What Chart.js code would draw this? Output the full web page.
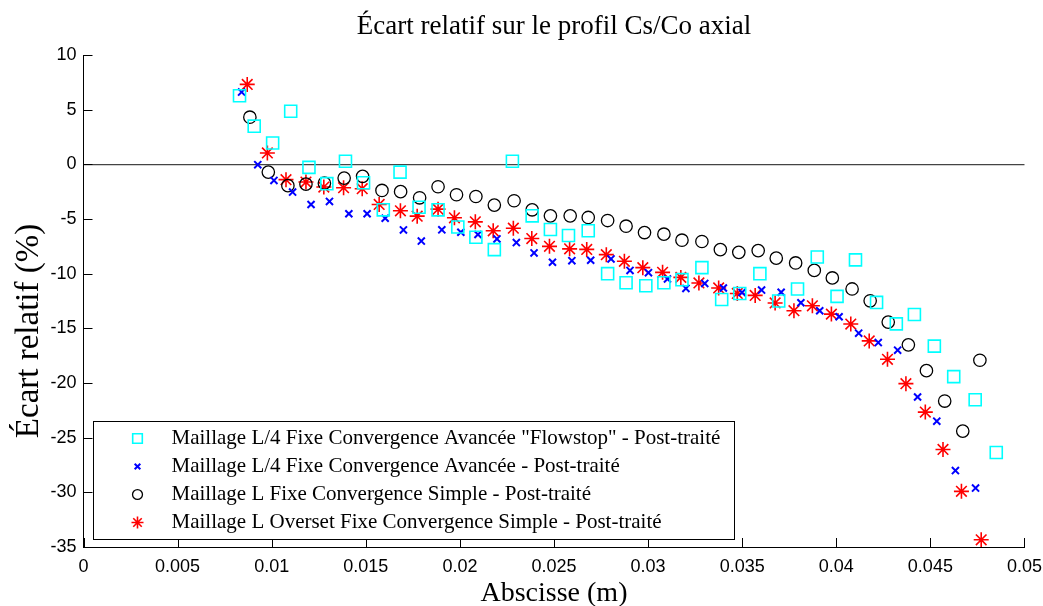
<!DOCTYPE html>
<html>
<head>
<meta charset="utf-8">
<title>Écart relatif sur le profil Cs/Co axial</title>
<script src="https://cdn.jsdelivr.net/npm/chart.js@4.4.1/dist/chart.umd.min.js"></script>
<style>
  html, body { margin: 0; padding: 0; background: #fff; }
</style>
</head>
<body>
<canvas id="chart" width="1043" height="606"></canvas>
<script>
// valeurs : abscisse en m, écart relatif en %
const xFlowstop = [0.00829, 0.00907, 0.01005, 0.01101, 0.01198, 0.01293, 0.01392, 0.01488, 0.01593, 0.01682,
  0.01783, 0.01884, 0.01989, 0.02085, 0.02183, 0.02279, 0.02384, 0.02481, 0.02577, 0.02682,
  0.02785, 0.02883, 0.02988, 0.03084, 0.0318, 0.03286, 0.03391, 0.03487, 0.03594, 0.03694,
  0.03794, 0.03899, 0.04004, 0.04102, 0.04214, 0.04319, 0.04415, 0.04521, 0.04624, 0.04738, 0.0485];
const yFlowstop = [6.27, 3.49, 1.95, 4.86, -0.28, -1.77, 0.28, -1.68, -4.16, -0.71,
  -3.92, -4.16, -5.73, -6.67, -7.8, 0.28, -4.71, -5.96, -6.51, -6.08,
  -10.0, -10.83, -11.1, -10.83, -10.55, -9.45, -12.36, -11.81, -10.0, -12.5,
  -11.4, -8.47, -12.08, -8.74, -12.63, -14.59, -13.73, -16.63, -19.42, -21.53, -26.36];

const xAvancee = [0.0084, 0.00926, 0.01012, 0.01111, 0.01209, 0.01307, 0.0141, 0.01507, 0.01603, 0.017,
  0.01795, 0.01904, 0.02005, 0.02096, 0.02197, 0.023, 0.02394, 0.02492, 0.02595, 0.02695,
  0.02803, 0.02904, 0.03002, 0.03103, 0.03201, 0.03301, 0.034, 0.03499, 0.03603, 0.03707,
  0.03812, 0.03912, 0.04015, 0.04119, 0.04223, 0.04326, 0.04432, 0.04534, 0.04633, 0.0474];
const yAvancee = [6.61, -0.03, -1.47, -2.54, -3.67, -3.39, -4.52, -4.52, -4.93, -6.0,
  -7.02, -5.99, -6.21, -6.42, -6.82, -7.16, -8.1, -8.96, -8.81, -8.77,
  -8.65, -9.7, -9.91, -10.49, -11.35, -10.89, -11.31, -11.72, -11.5, -11.7,
  -12.66, -13.39, -13.94, -15.44, -16.3, -17.0, -21.28, -23.49, -28.01, -29.61];

const xSimple = [0.00884, 0.00982, 0.01086, 0.01182, 0.0128, 0.01385, 0.01483, 0.01586, 0.01685, 0.01786,
  0.01884, 0.01982, 0.02085, 0.02183, 0.02288, 0.02384, 0.02481, 0.02586, 0.02682, 0.02785,
  0.02883, 0.02981, 0.03084, 0.0318, 0.03286, 0.03384, 0.03482, 0.03585, 0.03681, 0.03784,
  0.03883, 0.03979, 0.04084, 0.0418, 0.04276, 0.04383, 0.04479, 0.04576, 0.04672, 0.04763];
const ySimple = [4.31, -0.71, -1.95, -1.81, -1.72, -1.26, -1.1, -2.39, -2.5, -3.06,
  -2.05, -2.78, -2.94, -3.73, -3.33, -4.16, -4.71, -4.71, -4.86, -5.14,
  -5.66, -6.24, -6.39, -6.94, -7.06, -7.8, -8.05, -7.89, -8.58, -9.02,
  -9.7, -10.39, -11.4, -12.48, -14.43, -16.51, -18.87, -21.65, -24.4, -17.92];

const xOverset = [0.0087, 0.00977, 0.01076, 0.01182, 0.01277, 0.01382, 0.01481, 0.01571, 0.01684, 0.01773,
  0.01884, 0.01971, 0.02082, 0.02177, 0.02284, 0.02382, 0.02476, 0.02583, 0.02674, 0.02778,
  0.02874, 0.02972, 0.03077, 0.03174, 0.0327, 0.03375, 0.03474, 0.03569, 0.03675, 0.03775,
  0.03873, 0.03974, 0.04077, 0.04175, 0.04272, 0.0437, 0.04473, 0.04567, 0.04665, 0.0477];
const yOverset = [7.31, 1.04, -1.4, -1.62, -2.08, -2.14, -2.23, -3.67, -4.25, -4.74,
  -4.1, -4.89, -5.26, -6.08, -5.84, -6.79, -7.5, -7.73, -7.78, -8.26,
  -8.87, -9.45, -9.88, -10.34, -10.85, -11.31, -11.81, -11.99, -12.68, -13.39,
  -12.94, -13.7, -14.61, -16.15, -17.83, -20.06, -22.66, -26.08, -29.91, -34.34];

const seriesLabels = [
  'Maillage L/4 Fixe Convergence Avancée "Flowstop" - Post-traité',
  'Maillage L/4 Fixe Convergence Avancée - Post-traité',
  'Maillage L Fixe Convergence Simple - Post-traité',
  'Maillage L Overset Fixe Convergence Simple - Post-traité'
];

const xTicks = [0, 0.005, 0.01, 0.015, 0.02, 0.025, 0.03, 0.035, 0.04, 0.045, 0.05];
const yTicks = [10, 5, 0, -5, -10, -15, -20, -25, -30, -35];

const serif = "'Liberation Serif', 'Times New Roman', serif";
const sans = "'Liberation Sans', Arial, sans-serif";

const toPoints = (xs, ys) => xs.map((x, i) => ({ x: x, y: ys[i] }));

// ticks vers l'intérieur, libellé Y et légende encadrée (style MATLAB)
const matlabAxes = {
  id: 'matlabAxes',
  afterDraw(chart) {
    const { ctx, chartArea: a, scales: { x, y } } = chart;
    ctx.save();
    ctx.strokeStyle = '#000';
    ctx.lineWidth = 1;
    ctx.beginPath();
    xTicks.forEach(v => {
      const px = Math.round(x.getPixelForValue(v)) + 0.5;
      ctx.moveTo(px, a.bottom);
      ctx.lineTo(px, a.bottom - 9);
    });
    yTicks.forEach(v => {
      const py = Math.round(y.getPixelForValue(v)) + 0.5;
      ctx.moveTo(a.left, py);
      ctx.lineTo(a.left + 9, py);
    });
    ctx.stroke();

    ctx.save();
    ctx.translate(29, 331);
    ctx.rotate(-Math.PI / 2);
    ctx.fillStyle = '#000';
    ctx.font = '33px ' + serif;
    ctx.textAlign = 'center';
    ctx.textBaseline = 'middle';
    ctx.fillText('Écart relatif (%)', 0, 0);
    ctx.restore();

    // légende
    const lx = Math.round(a.left + 9.5) + 0.5, ly = 421.5;
    const lw = 641, lh = 118;
    ctx.fillStyle = '#fff';
    ctx.fillRect(lx, ly, lw, lh);
    ctx.strokeRect(lx, ly, lw, lh);
    ctx.font = '21px ' + serif;
    ctx.textAlign = 'left';
    ctx.textBaseline = 'middle';
    chart.data.datasets.forEach((ds, i) => {
      const cy = ly + 17 + i * 28;
      ctx.strokeStyle = ds.borderColor;
      ctx.fillStyle = 'transparent';
      ctx.lineWidth = ds.borderWidth;
      Chart.helpers.drawPoint(ctx, {
        pointStyle: ds.pointStyle, radius: ds.pointRadius * 0.8, borderWidth: ds.borderWidth, rotation: 0
      }, lx + 44, cy);
      ctx.fillStyle = '#000';
      ctx.fillText(ds.label, lx + 78, cy);
    });
    ctx.restore();
  }
};

const ctx = document.getElementById('chart').getContext('2d');
new Chart(ctx, {
  type: 'scatter',
  data: {
    datasets: [
      { label: seriesLabels[0], data: toPoints(xFlowstop, yFlowstop), pointStyle: 'rect', pointRadius: 8.5,
        borderColor: '#00ffff', backgroundColor: 'transparent', borderWidth: 1.6 },
      { label: seriesLabels[1], data: toPoints(xAvancee, yAvancee), pointStyle: 'crossRot', pointRadius: 5,
        borderColor: '#0000ff', backgroundColor: 'transparent', borderWidth: 2 },
      { label: seriesLabels[2], data: toPoints(xSimple, ySimple), pointStyle: 'circle', pointRadius: 6.2,
        borderColor: '#000000', backgroundColor: 'transparent', borderWidth: 1.3 },
      { label: seriesLabels[3], data: toPoints(xOverset, yOverset), pointStyle: 'star', pointRadius: 7.5,
        borderColor: '#ff0000', backgroundColor: 'transparent', borderWidth: 1.6 }
    ]
  },
  options: {
    responsive: false,
    animation: false,
    layout: { padding: { left: 0, right: 17, top: 0, bottom: 0 } },
    elements: { point: { hoverRadius: 6 } },
    plugins: {
      legend: { display: false },
      tooltip: { enabled: false },
      title: {
        display: true,
        text: 'Écart relatif sur le profil Cs/Co axial',
        fullSize: false,
        color: '#000',
        font: { family: serif, size: 27, weight: 'normal', lineHeight: 1.2 },
        padding: { top: 10.7, bottom: 11.9 }
      }
    },
    scales: {
      x: {
        type: 'linear',
        min: 0,
        max: 0.05,
        afterBuildTicks: s => { s.ticks = xTicks.map(v => ({ value: v })); },
        afterFit: s => { s.height = 59; },
        grid: { display: false },
        border: { display: true, color: '#000', width: 1 },
        ticks: {
          color: '#000',
          padding: 1,
          maxRotation: 0,
          font: { family: sans, size: 18 },
          callback: v => String(+Number(v).toFixed(3))
        },
        title: {
          display: true,
          text: 'Abscisse (m)',
          color: '#000',
          font: { family: serif, size: 28, lineHeight: 0.9 },
          padding: { top: 0, bottom: 0 }
        }
      },
      y: {
        type: 'linear',
        min: -35,
        max: 10,
        afterBuildTicks: s => { s.ticks = yTicks.map(v => ({ value: v })); },
        afterFit: s => { s.width = 83.5; },
        grid: {
          drawTicks: false,
          lineWidth: 1.2,
          color: c => (c.tick && c.tick.value === 0 ? '#444' : 'transparent')
        },
        border: { display: true, color: '#000', width: 1 },
        ticks: {
          color: '#000',
          padding: 7,
          font: { family: sans, size: 18 },
          callback: v => String(v)
        }
      }
    }
  },
  plugins: [matlabAxes]
});
</script>
</body>
</html>
